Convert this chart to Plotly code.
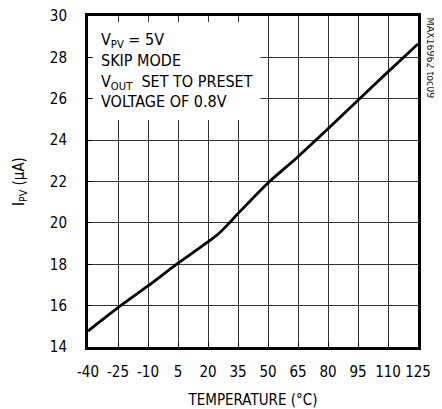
import plotly.graph_objects as go

temperature = [-40, -25, -10, 5, 20, 25, 30, 35, 50, 65, 80, 95, 110, 125]
current_ua = [14.77, 15.9, 16.95, 18.05, 19.08, 19.45, 19.93, 20.45, 21.93, 23.2, 24.55, 25.93, 27.3, 28.65]

x_ticks = [-40, -25, -10, 5, 20, 35, 50, 65, 80, 95, 110, 125]
y_ticks = [14, 16, 18, 20, 22, 24, 26, 28, 30]

FONT = "DejaVu Sans Condensed"

fig = go.Figure()
fig.add_trace(go.Scatter(
    x=temperature, y=current_ua, mode="lines",
    line=dict(color="black", width=2.8, shape="spline", smoothing=0.8),
    showlegend=False, hoverinfo="skip",
))

axis_common = dict(
    showgrid=True, gridcolor="#333333", gridwidth=1,
    showline=True, linecolor="black", linewidth=3, mirror=True,
    ticks="inside", ticklen=4, tickcolor="black", tickwidth=1,
    zeroline=False, automargin=False, ticklabeloverflow="allow",
    tickfont=dict(family=FONT, size=15, color="black"),
    title_font=dict(family=FONT, size=15, color="black"),
)

fig.update_xaxes(range=[-40, 125], tickvals=x_ticks, ticktext=[str(v) for v in x_ticks],
                 title_text="TEMPERATURE (°C)", title_standoff=15, ticklabelstandoff=9,
                 **axis_common)
fig.update_yaxes(range=[14, 30], tickvals=y_ticks, ticktext=[str(v) for v in y_ticks],
                 title_text="I<sub>PV</sub> (µA)", title_standoff=22, ticklabelstandoff=15,
                 **axis_common)

# white box behind the condition text
fig.add_shape(type="rect", xref="x", yref="y", x0=-37.6, x1=46.2, y0=24.97, y1=29.71,
              fillcolor="white", line=dict(width=0), layer="between")

fig.add_annotation(
    xref="x", yref="y", x=-34.5, y=27.35, xanchor="left", yanchor="middle",
    align="left", showarrow=False,
    text="V<sub>PV</sub> = 5V<br>SKIP MODE<br>V<sub>OUT</sub>  SET TO PRESET<br>VOLTAGE OF 0.8V",
    font=dict(family=FONT, size=16, color="black"),
)

fig.add_annotation(
    xref="paper", yref="paper", x=1, y=1, xanchor="left", yanchor="top",
    xshift=5, yshift=1, textangle=90, showarrow=False,
    text="MAX16962 toc09",
    font=dict(family=FONT, size=10.5, color="#222222"),
)

fig.update_layout(
    width=434, height=401,
    margin=dict(l=80, r=24, t=8, b=62, autoexpand=False),
    paper_bgcolor="white", plot_bgcolor="white",
    font=dict(family=FONT, color="black"),
)

fig.write_html("out.html")
